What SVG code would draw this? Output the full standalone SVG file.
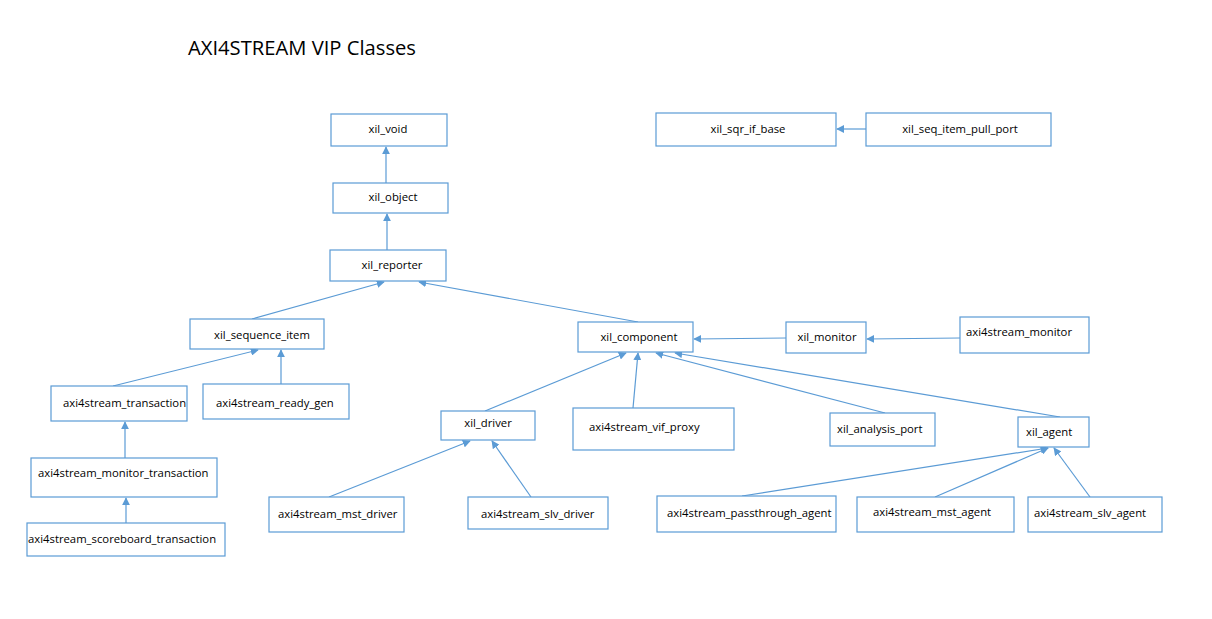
<svg xmlns="http://www.w3.org/2000/svg" width="1212" height="619" viewBox="0 0 1212 619">
<defs>
<marker id="ah" viewBox="0 0 10 10" refX="9" refY="5" markerWidth="8" markerHeight="8" markerUnits="userSpaceOnUse" orient="auto">
<path d="M0,0 L10,5 L0,10 z" fill="#5B9BD5"/>
</marker>
</defs>
<style>
.box{fill:#fff;stroke:#5B9BD5;stroke-width:1.2}
.t{font-family:"Open Sans","Liberation Sans",Arial,sans-serif;font-size:11.3px;fill:#000}
.c{stroke:#5B9BD5;stroke-width:1.2;fill:none;marker-end:url(#ah)}
.title{font-family:"Open Sans","Liberation Sans",sans-serif;font-size:20px;fill:#000}
</style>
<rect width="1212" height="619" fill="#fff"/>
<text class="title" x="188" y="55" textLength="228" lengthAdjust="spacingAndGlyphs">AXI4STREAM VIP Classes</text>
<g id="connectors">
<line class="c" x1="386" y1="183" x2="386" y2="147"/>
<line class="c" x1="387" y1="250" x2="387" y2="214"/>
<line class="c" x1="866" y1="129" x2="837" y2="129"/>
<line class="c" x1="252" y1="319" x2="384" y2="282"/>
<line class="c" x1="638" y1="322" x2="419" y2="282"/>
<line class="c" x1="281" y1="384" x2="281" y2="350"/>
<line class="c" x1="113" y1="386" x2="258" y2="350"/>
<line class="c" x1="125" y1="458" x2="125" y2="422"/>
<line class="c" x1="126" y1="523" x2="126" y2="498"/>
<line class="c" x1="786" y1="338" x2="694" y2="339"/>
<line class="c" x1="960" y1="338" x2="867" y2="339"/>
<line class="c" x1="485" y1="411" x2="626" y2="353"/>
<line class="c" x1="633" y1="408" x2="638" y2="353"/>
<line class="c" x1="885" y1="413" x2="656" y2="353"/>
<line class="c" x1="1060" y1="417" x2="675" y2="353"/>
<line class="c" x1="329" y1="497" x2="470" y2="441"/>
<line class="c" x1="531" y1="497" x2="492" y2="441"/>
<line class="c" x1="742" y1="496" x2="1048" y2="448"/>
<line class="c" x1="935" y1="497" x2="1048" y2="448"/>
<line class="c" x1="1090" y1="497" x2="1054" y2="448"/>
</g>
<g id="xil_void"><rect class="box" x="331" y="114" width="116" height="32"/><text class="t" x="388" y="133" text-anchor="middle">xil_void</text></g>
<g id="xil_object"><rect class="box" x="333" y="183" width="115" height="30"/><text class="t" x="393" y="201" text-anchor="middle">xil_object</text></g>
<g id="xil_reporter"><rect class="box" x="330" y="250" width="116" height="31"/><text class="t" x="392" y="269" text-anchor="middle">xil_reporter</text></g>
<g id="xil_sqr_if_base"><rect class="box" x="656" y="113" width="180" height="33"/><text class="t" x="748" y="133" text-anchor="middle">xil_sqr_if_base</text></g>
<g id="xil_seq_item_pull_port"><rect class="box" x="866" y="113" width="185" height="33"/><text class="t" x="960" y="133" text-anchor="middle">xil_seq_item_pull_port</text></g>
<g id="xil_sequence_item"><rect class="box" x="190" y="319" width="134" height="30"/><text class="t" x="262" y="339" text-anchor="middle">xil_sequence_item</text></g>
<g id="xil_component"><rect class="box" x="578" y="322" width="115" height="30"/><text class="t" x="639" y="341" text-anchor="middle">xil_component</text></g>
<g id="xil_monitor"><rect class="box" x="786" y="322" width="80" height="31"/><text class="t" x="827" y="341" text-anchor="middle">xil_monitor</text></g>
<g id="axi4stream_monitor"><rect class="box" x="960" y="317" width="129" height="36"/><text class="t" x="966" y="336">axi4stream_monitor</text></g>
<g id="axi4stream_transaction"><rect class="box" x="51" y="386" width="136" height="35"/><text class="t" x="63" y="407">axi4stream_transaction</text></g>
<g id="axi4stream_ready_gen"><rect class="box" x="203" y="384" width="146" height="35"/><text class="t" x="216" y="407">axi4stream_ready_gen</text></g>
<g id="xil_driver"><rect class="box" x="441" y="411" width="94" height="29"/><text class="t" x="488" y="427" text-anchor="middle">xil_driver</text></g>
<g id="axi4stream_vif_proxy"><rect class="box" x="573" y="408" width="161" height="42"/><text class="t" x="589" y="431">axi4stream_vif_proxy</text></g>
<g id="xil_analysis_port"><rect class="box" x="830" y="413" width="105" height="33"/><text class="t" x="837" y="433">xil_analysis_port</text></g>
<g id="xil_agent"><rect class="box" x="1018" y="417" width="71" height="30"/><text class="t" x="1026" y="436">xil_agent</text></g>
<g id="axi4stream_monitor_transaction"><rect class="box" x="31" y="458" width="186" height="39"/><text class="t" x="38" y="477">axi4stream_monitor_transaction</text></g>
<g id="axi4stream_scoreboard_transaction"><rect class="box" x="27" y="523" width="198" height="33"/><text class="t" x="28" y="543">axi4stream_scoreboard_transaction</text></g>
<g id="axi4stream_mst_driver"><rect class="box" x="269" y="497" width="135" height="35"/><text class="t" x="278" y="518">axi4stream_mst_driver</text></g>
<g id="axi4stream_slv_driver"><rect class="box" x="468" y="497" width="140" height="32"/><text class="t" x="481" y="518">axi4stream_slv_driver</text></g>
<g id="axi4stream_passthrough_agent"><rect class="box" x="657" y="496" width="179" height="36"/><text class="t" x="667" y="517">axi4stream_passthrough_agent</text></g>
<g id="axi4stream_mst_agent"><rect class="box" x="857" y="497" width="157" height="35"/><text class="t" x="873" y="516">axi4stream_mst_agent</text></g>
<g id="axi4stream_slv_agent"><rect class="box" x="1028" y="497" width="134" height="35"/><text class="t" x="1034" y="517">axi4stream_slv_agent</text></g>
</svg>
